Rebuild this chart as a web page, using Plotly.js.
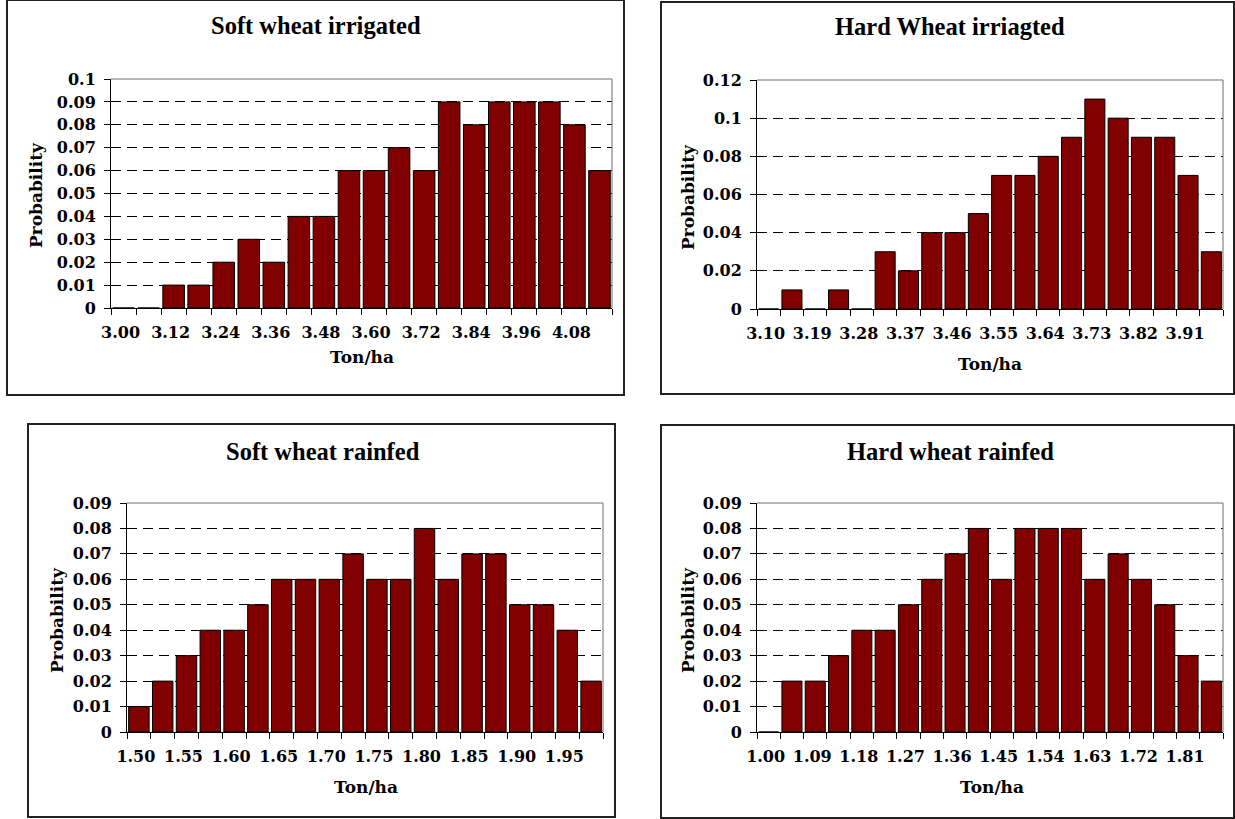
<!DOCTYPE html>
<html>
<head>
<meta charset="utf-8">
<script src="https://cdn.plot.ly/plotly-3.0.1.min.js"></script>
<style>
  html, body { margin: 0; padding: 0; background: #ffffff; }
  #chart { width: 1235px; height: 819px; }
</style>
</head>
<body>
<div id="chart"></div>
<script>
// ---------- data ----------
const softIrrCats = ['3.00','3.06','3.12','3.18','3.24','3.30','3.36','3.42','3.48','3.54','3.60','3.66','3.72','3.78','3.84','3.90','3.96','4.02','4.08','4.14'];
const softIrrProb = [0,0,0.01,0.01,0.02,0.03,0.02,0.04,0.04,0.06,0.06,0.07,0.06,0.09,0.08,0.09,0.09,0.09,0.08,0.06];

const hardIrrCats = ['3.10','3.145','3.19','3.235','3.28','3.325','3.37','3.415','3.46','3.505','3.55','3.595','3.64','3.685','3.73','3.775','3.82','3.865','3.91','3.955'];
const hardIrrProb = [0,0.01,0,0.01,0,0.03,0.02,0.04,0.04,0.05,0.07,0.07,0.08,0.09,0.11,0.10,0.09,0.09,0.07,0.03];

const softRainCats = ['1.50','1.525','1.55','1.575','1.60','1.625','1.65','1.675','1.70','1.725','1.75','1.775','1.80','1.825','1.85','1.875','1.90','1.925','1.95','1.975'];
const softRainProb = [0.01,0.02,0.03,0.04,0.04,0.05,0.06,0.06,0.06,0.07,0.06,0.06,0.08,0.06,0.07,0.07,0.05,0.05,0.04,0.02];

const hardRainCats = ['1.00','1.045','1.09','1.135','1.18','1.225','1.27','1.315','1.36','1.405','1.45','1.495','1.54','1.585','1.63','1.675','1.72','1.765','1.81','1.855'];
const hardRainProb = [0,0.02,0.02,0.03,0.04,0.04,0.05,0.06,0.07,0.08,0.06,0.08,0.08,0.08,0.06,0.07,0.06,0.05,0.03,0.02];

const panelTitles = ['Soft wheat irrigated', 'Hard Wheat irriagted', 'Soft wheat rainfed', 'Hard wheat rainfed'];
const xTitle = 'Ton/ha';
const yTitle = 'Probability';
const yMax = [0.1, 0.12, 0.09, 0.09];
const yStep = [0.01, 0.02, 0.01, 0.01];

// ---------- layout helpers ----------
const W = 1235, H = 819;
const px = v => v / W;
const py = v => 1 - v / H;

const panels = [
  { cats: softIrrCats, vals: softIrrProb, plot: [111, 612, 79, 308],  box: [7, 0, 624, 395],
    title: [316, 25], xt: [362, 357], yt: [36, 195] },
  { cats: hardIrrCats, vals: hardIrrProb, plot: [757, 1223, 80, 309], box: [661, 2, 1234, 394],
    title: [950, 27], xt: [990, 364], yt: [688, 197] },
  { cats: softRainCats, vals: softRainProb, plot: [127, 603, 503, 732], box: [28, 424, 615, 817],
    title: [323, 451], xt: [366, 787], yt: [57, 620] },
  { cats: hardRainCats, vals: hardRainProb, plot: [757, 1223, 503, 732], box: [661, 425, 1234, 818],
    title: [950, 451], xt: [992, 787], yt: [688, 620] }
];

const tickFont = { family: 'DejaVu Serif', size: 16, color: '#000', weight: 'bold' };
const axTitleFont = { family: 'DejaVu Serif', size: 17, color: '#000', weight: 'bold' };
const titleFont = { family: 'Liberation Serif', size: 24.5, color: '#000', weight: 'bold' };

const data = [];
const layout = {
  width: W, height: H,
  margin: { l: 0, r: 0, t: 0, b: 0 },
  paper_bgcolor: '#ffffff',
  plot_bgcolor: '#ffffff',
  showlegend: false,
  bargap: 0.14,
  shapes: [],
  annotations: []
};

panels.forEach((p, i) => {
  const n = i + 1;
  const xa = 'x' + (n === 1 ? '' : n);
  const ya = 'y' + (n === 1 ? '' : n);
  const xKey = 'xaxis' + (n === 1 ? '' : n);
  const yKey = 'yaxis' + (n === 1 ? '' : n);

  data.push({
    type: 'bar',
    x: p.cats,
    y: p.vals,
    xaxis: xa, yaxis: ya,
    marker: { color: '#800000', line: { color: '#000000', width: 1 } },
    hoverinfo: 'none'
  });

  layout[xKey] = {
    domain: [px(p.plot[0]), px(p.plot[1])],
    anchor: ya,
    type: 'category',
    tickmode: 'array',
    tickvals: p.cats,
    ticktext: p.cats.map((c, k) => (k % 2 === 0 ? c : '')),
    tickson: 'boundaries',
    ticks: 'outside',
    ticklen: 6,
    tickcolor: '#000',
    tickwidth: 1,
    ticklabelstandoff: 10,
    ticklabelshift: -3,
    tickangle: 0,
    tickfont: tickFont,
    showline: true,
    linecolor: '#000',
    linewidth: 1,
    showgrid: false,
    zeroline: false,
    fixedrange: true
  };

  layout[yKey] = {
    domain: [py(p.plot[3]), py(p.plot[2])],
    anchor: xa,
    range: [0, yMax[i]],
    tick0: 0,
    dtick: yStep[i],
    ticks: 'outside',
    ticklen: 6,
    tickcolor: '#000',
    tickwidth: 1,
    ticklabelstandoff: 5,
    tickfont: tickFont,
    showline: true,
    linecolor: '#000',
    linewidth: 1,
    showgrid: true,
    gridcolor: '#000',
    gridwidth: 1,
    griddash: '10px,6px',
    zeroline: false,
    fixedrange: true
  };

  // plot area top and right border
  layout.shapes.push({
    type: 'line', xref: xa + ' domain', yref: ya + ' domain',
    x0: 0, x1: 1, y0: 1, y1: 1, line: { color: '#6e6e6e', width: 1 }, layer: 'above'
  });
  layout.shapes.push({
    type: 'line', xref: xa + ' domain', yref: ya + ' domain',
    x0: 1, x1: 1, y0: 0, y1: 1, line: { color: '#6e6e6e', width: 1 }, layer: 'above'
  });

  // chart box
  layout.shapes.push({
    type: 'rect', xref: 'paper', yref: 'paper',
    x0: px(p.box[0]), x1: px(p.box[2]), y0: py(p.box[3]), y1: py(p.box[1]),
    line: { color: '#222', width: 2 }, fillcolor: 'rgba(0,0,0,0)', layer: 'below'
  });

  layout.annotations.push({
    text: panelTitles[i], xref: 'paper', yref: 'paper',
    x: px(p.title[0]), y: py(p.title[1]), xanchor: 'center', yanchor: 'middle',
    showarrow: false, font: titleFont
  });
  layout.annotations.push({
    text: xTitle, xref: 'paper', yref: 'paper',
    x: px(p.xt[0]), y: py(p.xt[1]), xanchor: 'center', yanchor: 'middle',
    showarrow: false, font: axTitleFont
  });
  layout.annotations.push({
    text: yTitle, xref: 'paper', yref: 'paper',
    x: px(p.yt[0]), y: py(p.yt[1]), xanchor: 'center', yanchor: 'middle',
    textangle: -90, showarrow: false, font: axTitleFont
  });
});

Plotly.newPlot('chart', data, layout, { staticPlot: true, displayModeBar: false });
</script>
</body>
</html>
